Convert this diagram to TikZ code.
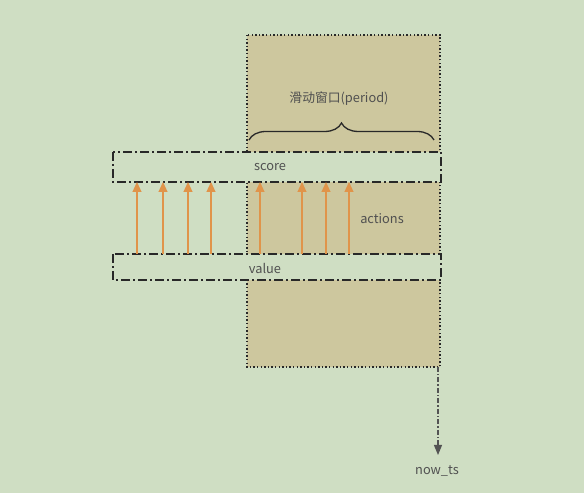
\documentclass[tikz,border=0pt]{standalone}
\usepackage{fontspec}
\setmainfont{Noto Sans CJK SC}
\usetikzlibrary{arrows.meta,decorations.pathreplacing}
\definecolor{bg}{RGB}{207,222,195}
\definecolor{tan}{RGB}{205,199,158}
\definecolor{arr}{RGB}{224,148,74}
\definecolor{txt}{RGB}{80,80,80}
\definecolor{dk}{RGB}{40,40,40}
\tikzset{
  lbl/.style={text=txt,font=\fontsize{12.8}{14}\selectfont,inner sep=0pt},
  band/.style={draw=dk,line width=1.4pt,dash pattern=on 9pt off 3pt on 2pt off 3pt,fill=bg},
  act/.style={draw=arr,line width=1.2pt,-{Triangle[length=10pt,width=9pt]}},
}
\begin{document}
\begin{tikzpicture}[x=1pt,y=1pt]
\fill[bg] (0,0) rectangle (584,493);
\useasboundingbox (0,0) rectangle (584,493);
% window
\draw[fill=tan,draw=dk,line width=1.4pt,dash pattern=on 1.4pt off 2.2pt] (247,458) rectangle (440,126) coordinate (wbr);
\node[lbl] (wl) at (339,394) {滑动窗口(period)};
\coordinate (bl) at (249,353);
\coordinate (br) at (434,353);
\draw[dk,line width=1.3pt,decorate,decoration={brace,amplitude=17pt}] (bl) -- (br);
% bands
\draw[band] (113,341) rectangle (441,311);
\node[lbl] (score) at (270,326) {score};
\draw[band] (113,239) rectangle (441,213);
\node[lbl] (value) at (265,225) {value};
\node[lbl] (actions) at (382,274) {actions};
% arrows
\foreach \x/\n in {137/a,163/b,188/c,211/d,260/e,302/f,326/g,349/h}{
  \coordinate (s\n) at (\x,239);
  \coordinate (t\n) at (\x,311);
  \draw[act] (s\n) -- (t\n);
}
% now_ts
\coordinate (nt0) at (438,126);
\node[lbl] (now) at (437,22) {now\_ts};
\coordinate (nt1) at (438,38);
\draw[dk!80,line width=1.1pt,dash pattern=on 5pt off 2pt on 1.5pt off 2pt,-{Triangle[length=10pt,width=8pt]}] (nt0) -- (nt1);
\end{tikzpicture}
\end{document}
